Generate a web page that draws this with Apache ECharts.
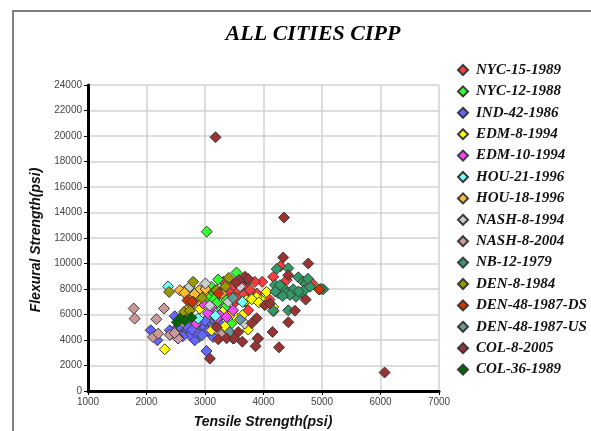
<!DOCTYPE html>
<html><head><meta charset="utf-8">
<script src="https://cdn.jsdelivr.net/npm/echarts@6/dist/echarts.min.js"></script>
<style>html,body{margin:0;padding:0;background:#fff}#c{width:591px;height:431px}</style>
</head><body><div id="c"></div>
<script>
var titleText = 'ALL CITIES CIPP';
var xName = 'Tensile Strength(psi)';
var yName = 'Flexural Strength(psi)';
var seriesNames = ['NYC-15-1989','NYC-12-1988','IND-42-1986','EDM-8-1994','EDM-10-1994','HOU-21-1996','HOU-18-1996','NASH-8-1994','NASH-8-2004','NB-12-1979','DEN-8-1984','DEN-48-1987-DS','DEN-48-1987-US','COL-8-2005','COL-36-1989'];
var seriesColors = ['#ff3b3b','#33ff33','#6666ff','#ffff00','#ff44ff','#77ffff','#ffbb33','#cccccc','#cc9999','#339966','#999900','#cc3300','#669999','#993333','#006600'];

var nyc15 = [[4290,9790],[4166,8950],[4395,8690],[4834,8430],[3978,8560],[3738,8640],[3521,8430],[3641,8170],[3310,8560],[3487,7510],[3687,7640],[3886,7640],[4103,7170],[3738,6330],[3600,8000],[3560,7900],[3450,8100],[3400,7800],[3580,8600],[3852,8560],[3420,7300],[3520,7000],[3250,7600],[3620,7300],[3300,7900],[4280,7700],[3769,7922],[3655,7529],[3541,7270],[3684,7004]];
var nyc12 = [[3030,12500],[3538,9290],[3225,8740],[2654,7850],[2900,7850],[3054,7170],[3139,7700],[3111,8170],[3150,7200],[3282,6460],[3111,6070],[3396,6200],[3453,5290],[2900,4240],[3367,7120],[3200,6900],[3000,7600],[3025,7430],[3253,5810],[4170,6250],[3350,6600],[2950,7900],[3180,7900]];
var ind42 = [[2072,4760],[2186,3980],[2483,5860],[2420,4500],[2483,4760],[2597,4760],[2683,4630],[2825,3980],[2825,5420],[2900,4800],[2997,5030],[3111,5340],[3160,5500],[3139,4240],[3220,5200],[3481,4110],[3025,3140],[3909,4110],[2740,4400],[2620,4300],[2540,4200],[2398,4760],[2860,4600],[3050,4700],[3250,5300],[2950,4400],[2700,5000],[2560,5100],[3000,5500],[2780,4800]];
var edm8 = [[2312,3270],[3738,4820],[4052,7770],[4166,6600],[3966,7120],[3880,7350],[3709,7120],[2911,6460],[3111,4760],[3339,5080],[3538,5730],[3641,5940],[3420,5900],[3800,7200],[3920,6950],[3300,6200]];
var edm10 = [[2968,6860],[3253,5940],[3367,5810],[2850,5300],[3200,5700],[3481,6330],[3111,6600],[3050,6100]];
var hou21 = [[2369,8200],[3641,6990],[2883,5680],[3180,5900]];
var hou18 = [[2569,7900],[2711,7380],[2740,6600],[2690,6350],[2968,7640],[2830,6900],[2770,7200],[2880,7100],[3282,7640],[2900,7900],[3010,8000],[2650,7700],[2820,7600]];
var nash94 = [[3008,8430],[3681,5290],[2740,8170],[2800,7000],[3080,6700],[3400,7000],[3600,8200]];
var nash04 = [[1781,6470],[1798,5680],[2169,5630],[2300,6470],[2112,4240],[2540,4110],[3282,4420],[2400,4400],[2620,5400],[2480,4550],[2200,4500]];
var nb12 = [[4225,9570],[4424,9620],[4197,8314],[4254,7663],[4350,8055],[4400,7700],[4509,7976],[4595,8918],[4680,8573],[4720,8400],[4653,7741],[4700,7900],[4556,7396],[4453,7529],[4328,7451],[5022,7976],[4980,8000],[4795,8180],[4423,6330],[4166,6330],[4280,8300],[4760,8800],[4600,7800],[4200,7800]];
var den84 = [[2797,8560],[2386,7770],[3407,8870],[3200,7900],[2640,6200],[2740,6300],[3350,8200],[2950,7300]];
var den48ds = [[4948,7960],[2700,7100],[2780,7000],[3230,7650]];
var den48us = [[3424,4630],[3600,5600],[3480,7300]];
var col8 = [[3180,19900],[4350,13600],[6070,1450],[4337,10470],[4765,10000],[3082,2540],[3710,8820],[3684,8965],[3740,8784],[3567,4630],[3638,3867],[3864,3510],[3883,5702],[3798,5310],[4155,4630],[4265,3427],[4424,5388],[4538,6298],[4720,7170],[4024,6730],[4423,9080],[3227,4055],[3370,4133],[3500,4133],[3900,4133],[3580,8700],[4110,6860],[3530,8500],[3200,5000]];
var col36 = [[2569,5680],[2768,5760],[2520,5400],[2650,5550]];

var allData = [nyc15,nyc12,ind42,edm8,edm10,hou21,hou18,nash94,nash04,nb12,den84,den48ds,den48us,col8,col36];

var chart = echarts.init(document.getElementById('c'), null, {renderer:'canvas'});
var series = seriesNames.map(function(n,i){
  return {
    name:n, type:'scatter', data:allData[i], symbol:'diamond', symbolSize:11,
    itemStyle:{color:seriesColors[i], borderColor:'#3a3a3a', borderWidth:1, opacity:1},
    emphasis:{disabled:true}
  };
});
var plainNum = function(v){ return String(v); };
chart.setOption({
  animation:false,
  backgroundColor:'#fff',
  grid:{left:88, right:152, top:85, bottom:40, containLabel:false},
  xAxis:{type:'value', min:1000, max:7000, interval:1000,
    axisLine:{show:true, onZero:false, lineStyle:{color:'#000', width:3}},
    axisTick:{show:true, length:4, lineStyle:{color:'#000'}},
    axisLabel:{fontSize:10, color:'#444', fontFamily:'Liberation Sans, Arial', margin:6, formatter:plainNum},
    splitLine:{show:true, lineStyle:{color:'#d2d2d2', width:1.5}}},
  yAxis:{type:'value', min:0, max:24000, interval:2000,
    axisLine:{show:true, onZero:false, lineStyle:{color:'#000', width:3}},
    axisTick:{show:true, length:4, lineStyle:{color:'#000'}},
    axisLabel:{fontSize:10, color:'#444', fontFamily:'Liberation Sans, Arial', margin:6, formatter:plainNum},
    splitLine:{show:true, lineStyle:{color:'#d2d2d2', width:1.5}}},
  legend:{orient:'vertical', left:457, top:62, padding:0, itemWidth:10, itemHeight:10, itemGap:5.4,
    icon:'diamond',
    textStyle:{fontFamily:'Liberation Serif, Times New Roman', fontWeight:'bold', fontStyle:'italic', fontSize:15, color:'#111', lineHeight:16, padding:[0,0,0,3]},
    data:seriesNames},
  graphic:[
    {type:'rect', shape:{x:13, y:11, width:700, height:500}, style:{fill:'none', stroke:'#555', lineWidth:1.5}, silent:true},
    {type:'text', x:313, y:34, style:{text:titleText, font:'italic bold 22px "Liberation Serif"', fill:'#000', textAlign:'center', textVerticalAlign:'middle', shadowColor:'rgba(0,0,0,0.35)', shadowOffsetX:1, shadowOffsetY:1, shadowBlur:1}},
    {type:'text', x:36, y:240, rotation:Math.PI/2, style:{text:yName, font:'italic bold 14px "Liberation Sans"', fill:'#111', textAlign:'center', textVerticalAlign:'middle'}},
    {type:'text', x:263, y:422, style:{text:xName, font:'italic bold 14px "Liberation Sans"', fill:'#111', textAlign:'center', textVerticalAlign:'middle'}}
  ],
  series:series
});
</script></body></html>
